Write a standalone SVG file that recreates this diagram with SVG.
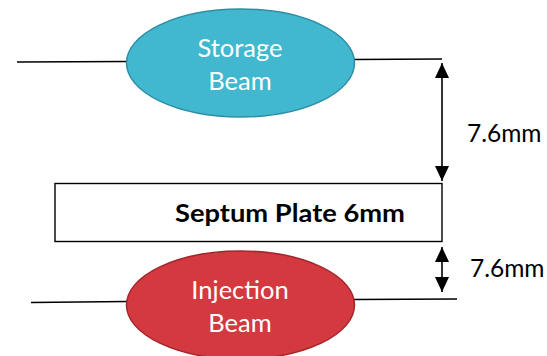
<svg xmlns="http://www.w3.org/2000/svg" width="547" height="356" viewBox="0 0 547 356">
<style>
.ln{stroke:#000;stroke-width:1.4;fill:none}
.dim{stroke:#000;stroke-width:1.6;fill:none;marker-start:url(#ah);marker-end:url(#ah)}
.lbl{font-family:Lato,"Liberation Sans",sans-serif;font-size:24.5px;fill:#000}
.wt{font-family:Lato,"Liberation Sans",sans-serif;font-size:25.5px;fill:#fff;text-anchor:middle}
.bold{font-family:Lato,"Liberation Sans",sans-serif;font-size:25px;font-weight:bold;fill:#000}
</style>
<defs>
<marker id="ah" markerUnits="userSpaceOnUse" markerWidth="16" markerHeight="14" refX="15" refY="7" orient="auto-start-reverse">
<path d="M0,0 L15,7 L0,14 z" fill="#000"/>
</marker>
</defs>
<g id="connectors">
<path class="ln" d="M17,62 L127,61.5"/>
<path class="ln" d="M354,59.5 L442,59"/>
<path class="ln" d="M31,302.5 L127,301.5"/>
<path class="ln" d="M354,299.5 L457,299"/>
<path class="dim" d="M442,63 L442,181"/>
<path class="dim" d="M442,247 L442,292"/>
</g>
<g id="storage-beam">
<ellipse cx="240.5" cy="63" rx="114" ry="54" fill="#41b8d0" stroke="#2d8ea3" stroke-width="1.5"/>
<text class="wt" x="240" y="56.5">Storage</text>
<text class="wt" x="240" y="90">Beam</text>
</g>
<g id="septum-plate">
<rect x="55" y="183.5" width="387" height="58" fill="#fff" stroke="#000" stroke-width="1.4"/>
<text class="bold" x="175" y="221.5" textLength="230" lengthAdjust="spacingAndGlyphs">Septum Plate 6mm</text>
</g>
<g id="injection-beam">
<ellipse cx="240.5" cy="305" rx="114" ry="54" fill="#d3393f" stroke="#a3262c" stroke-width="1.5"/>
<text class="wt" x="240" y="298.5">Injection</text>
<text class="wt" x="240" y="332">Beam</text>
</g>
<g id="dim-labels">
<text class="lbl" x="467" y="141.5">7.6mm</text>
<text class="lbl" x="470" y="276.7">7.6mm</text>
</g>
</svg>
